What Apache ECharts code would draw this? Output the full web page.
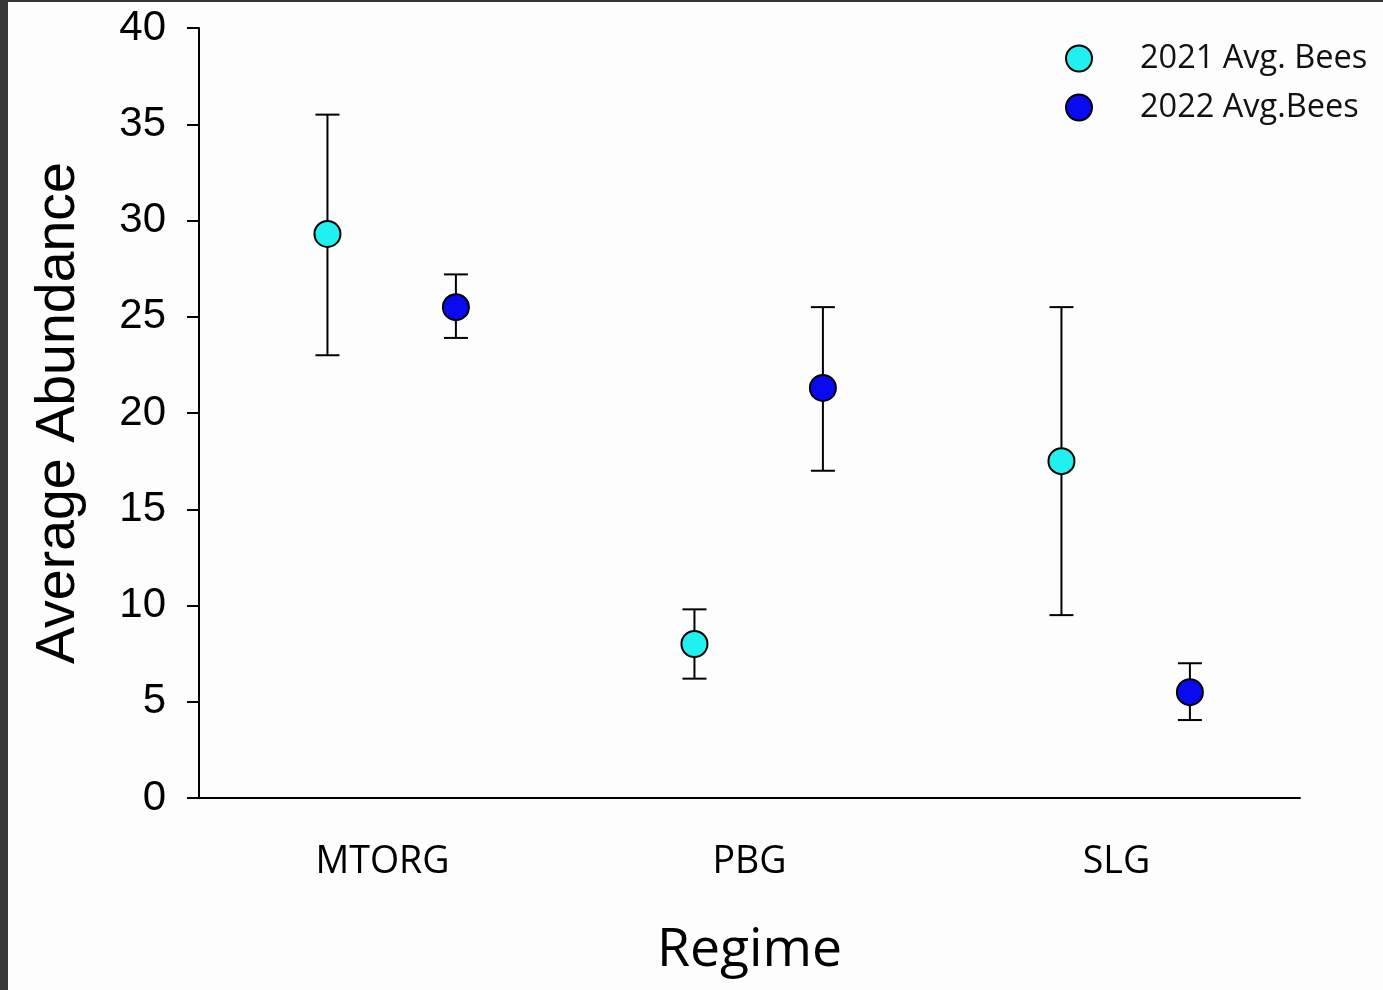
<!DOCTYPE html>
<html>
<head>
<meta charset="utf-8">
<script src="https://cdn.jsdelivr.net/npm/echarts@6/dist/echarts.min.js"></script>
<style>
  html, body { margin: 0; padding: 0; background: #363636; }
  #chart {
    position: absolute;
    left: 8px;
    top: 2px;
    width: 1375px;
    height: 988px;
    background: #fdfdfd;
  }
</style>
</head>
<body>
<div id="chart"></div>
<script>
// data
const regimes = ['MTORG', 'PBG', 'SLG'];
const bees2021 = [29.3, 8.0, 17.5];
const low2021 = [23.0, 6.2, 9.5];
const high2021 = [35.5, 9.8, 25.5];
const bees2022 = [25.5, 21.3, 5.5];
const low2022 = [23.9, 17.0, 4.05];
const high2022 = [27.2, 25.5, 7.0];
const yTicks = [0, 5, 10, 15, 20, 25, 30, 35, 40];

const cyan = '#20f0f0';
const blue = '#0a0af0';

const chart = echarts.init(document.getElementById('chart'));

function makeData(mean, low, high) {
  return regimes.map((r, i) => [i, mean[i], low[i], high[i]]);
}

// draws mean point + error bar, shifted inside the category band
function errorPoint(offset, color) {
  return function (params, api) {
    const band = api.size([1, 0])[0];
    const c = api.coord([api.value(0), api.value(1)]);
    const lo = api.coord([api.value(0), api.value(2)]);
    const hi = api.coord([api.value(0), api.value(3)]);
    const x = c[0] + offset * band;
    const cap = 12;
    const line = { stroke: '#000', lineWidth: 2 };
    return {
      type: 'group',
      children: [
        { type: 'line', shape: { x1: x, y1: hi[1], x2: x, y2: lo[1] }, style: line },
        { type: 'line', shape: { x1: x - cap, y1: hi[1], x2: x + cap, y2: hi[1] }, style: line },
        { type: 'line', shape: { x1: x - cap, y1: lo[1], x2: x + cap, y2: lo[1] }, style: line },
        { type: 'circle', shape: { cx: x, cy: c[1], r: 13 },
          style: { fill: color, stroke: '#000', lineWidth: 2 }, z2: 10 }
      ]
    };
  };
}

const option = {
  animation: false,
  grid: { left: 191, right: 83, top: 26, bottom: 192 },
  legend: {
    orient: 'vertical',
    left: 1057,
    top: 40,
    padding: 0,
    itemWidth: 26,
    itemHeight: 26,
    itemGap: 16,
    textStyle: {
      fontFamily: 'Open Sans',
      fontSize: 32.5,
      lineHeight: 26,
      color: '#111',
      padding: [0, 0, 0, 43]
    },
    data: [
      { name: '2021 Avg. Bees', icon: 'circle',
        itemStyle: { color: cyan, borderColor: '#000', borderWidth: 2 } },
      { name: '2022 Avg.Bees', icon: 'circle',
        itemStyle: { color: blue, borderColor: '#000', borderWidth: 2 } }
    ]
  },
  xAxis: {
    type: 'category',
    data: regimes,
    boundaryGap: true,
    name: 'Regime',
    nameLocation: 'middle',
    nameGap: 126,
    nameTextStyle: { fontFamily: 'Open Sans', fontSize: 53.5, color: '#000' },
    axisLine: { lineStyle: { color: '#000', width: 2 } },
    axisTick: { alignWithLabel: true, length: 11, lineStyle: { color: '#000', width: 2 } },
    axisLabel: { fontFamily: 'Open Sans', fontSize: 37.5, color: '#000', margin: 45 },
    splitLine: { show: false }
  },
  yAxis: {
    type: 'value',
    min: 0,
    max: 40,
    interval: 5,
    name: 'Average Abundance',
    nameLocation: 'middle',
    nameGap: 112,
    nameTextStyle: { fontFamily: 'Liberation Sans', fontSize: 55.5, color: '#000' },
    axisLine: { show: true, lineStyle: { color: '#000', width: 2 } },
    axisTick: { show: true, length: 12, lineStyle: { color: '#000', width: 2 } },
    axisLabel: {
      fontFamily: 'Liberation Sans', fontSize: 42, color: '#000', margin: 33,
      formatter: v => (yTicks.includes(v) ? String(v) : '')
    },
    splitLine: { show: false }
  },
  series: [
    {
      name: '2021 Avg. Bees',
      type: 'custom',
      itemStyle: { color: cyan },
      renderItem: errorPoint(-0.15, cyan),
      encode: { x: 0, y: [1, 2, 3] },
      data: makeData(bees2021, low2021, high2021)
    },
    {
      name: '2022 Avg.Bees',
      type: 'custom',
      itemStyle: { color: blue },
      renderItem: errorPoint(0.2, blue),
      encode: { x: 0, y: [1, 2, 3] },
      data: makeData(bees2022, low2022, high2022)
    }
  ]
};

chart.setOption(option);
</script>
</body>
</html>
